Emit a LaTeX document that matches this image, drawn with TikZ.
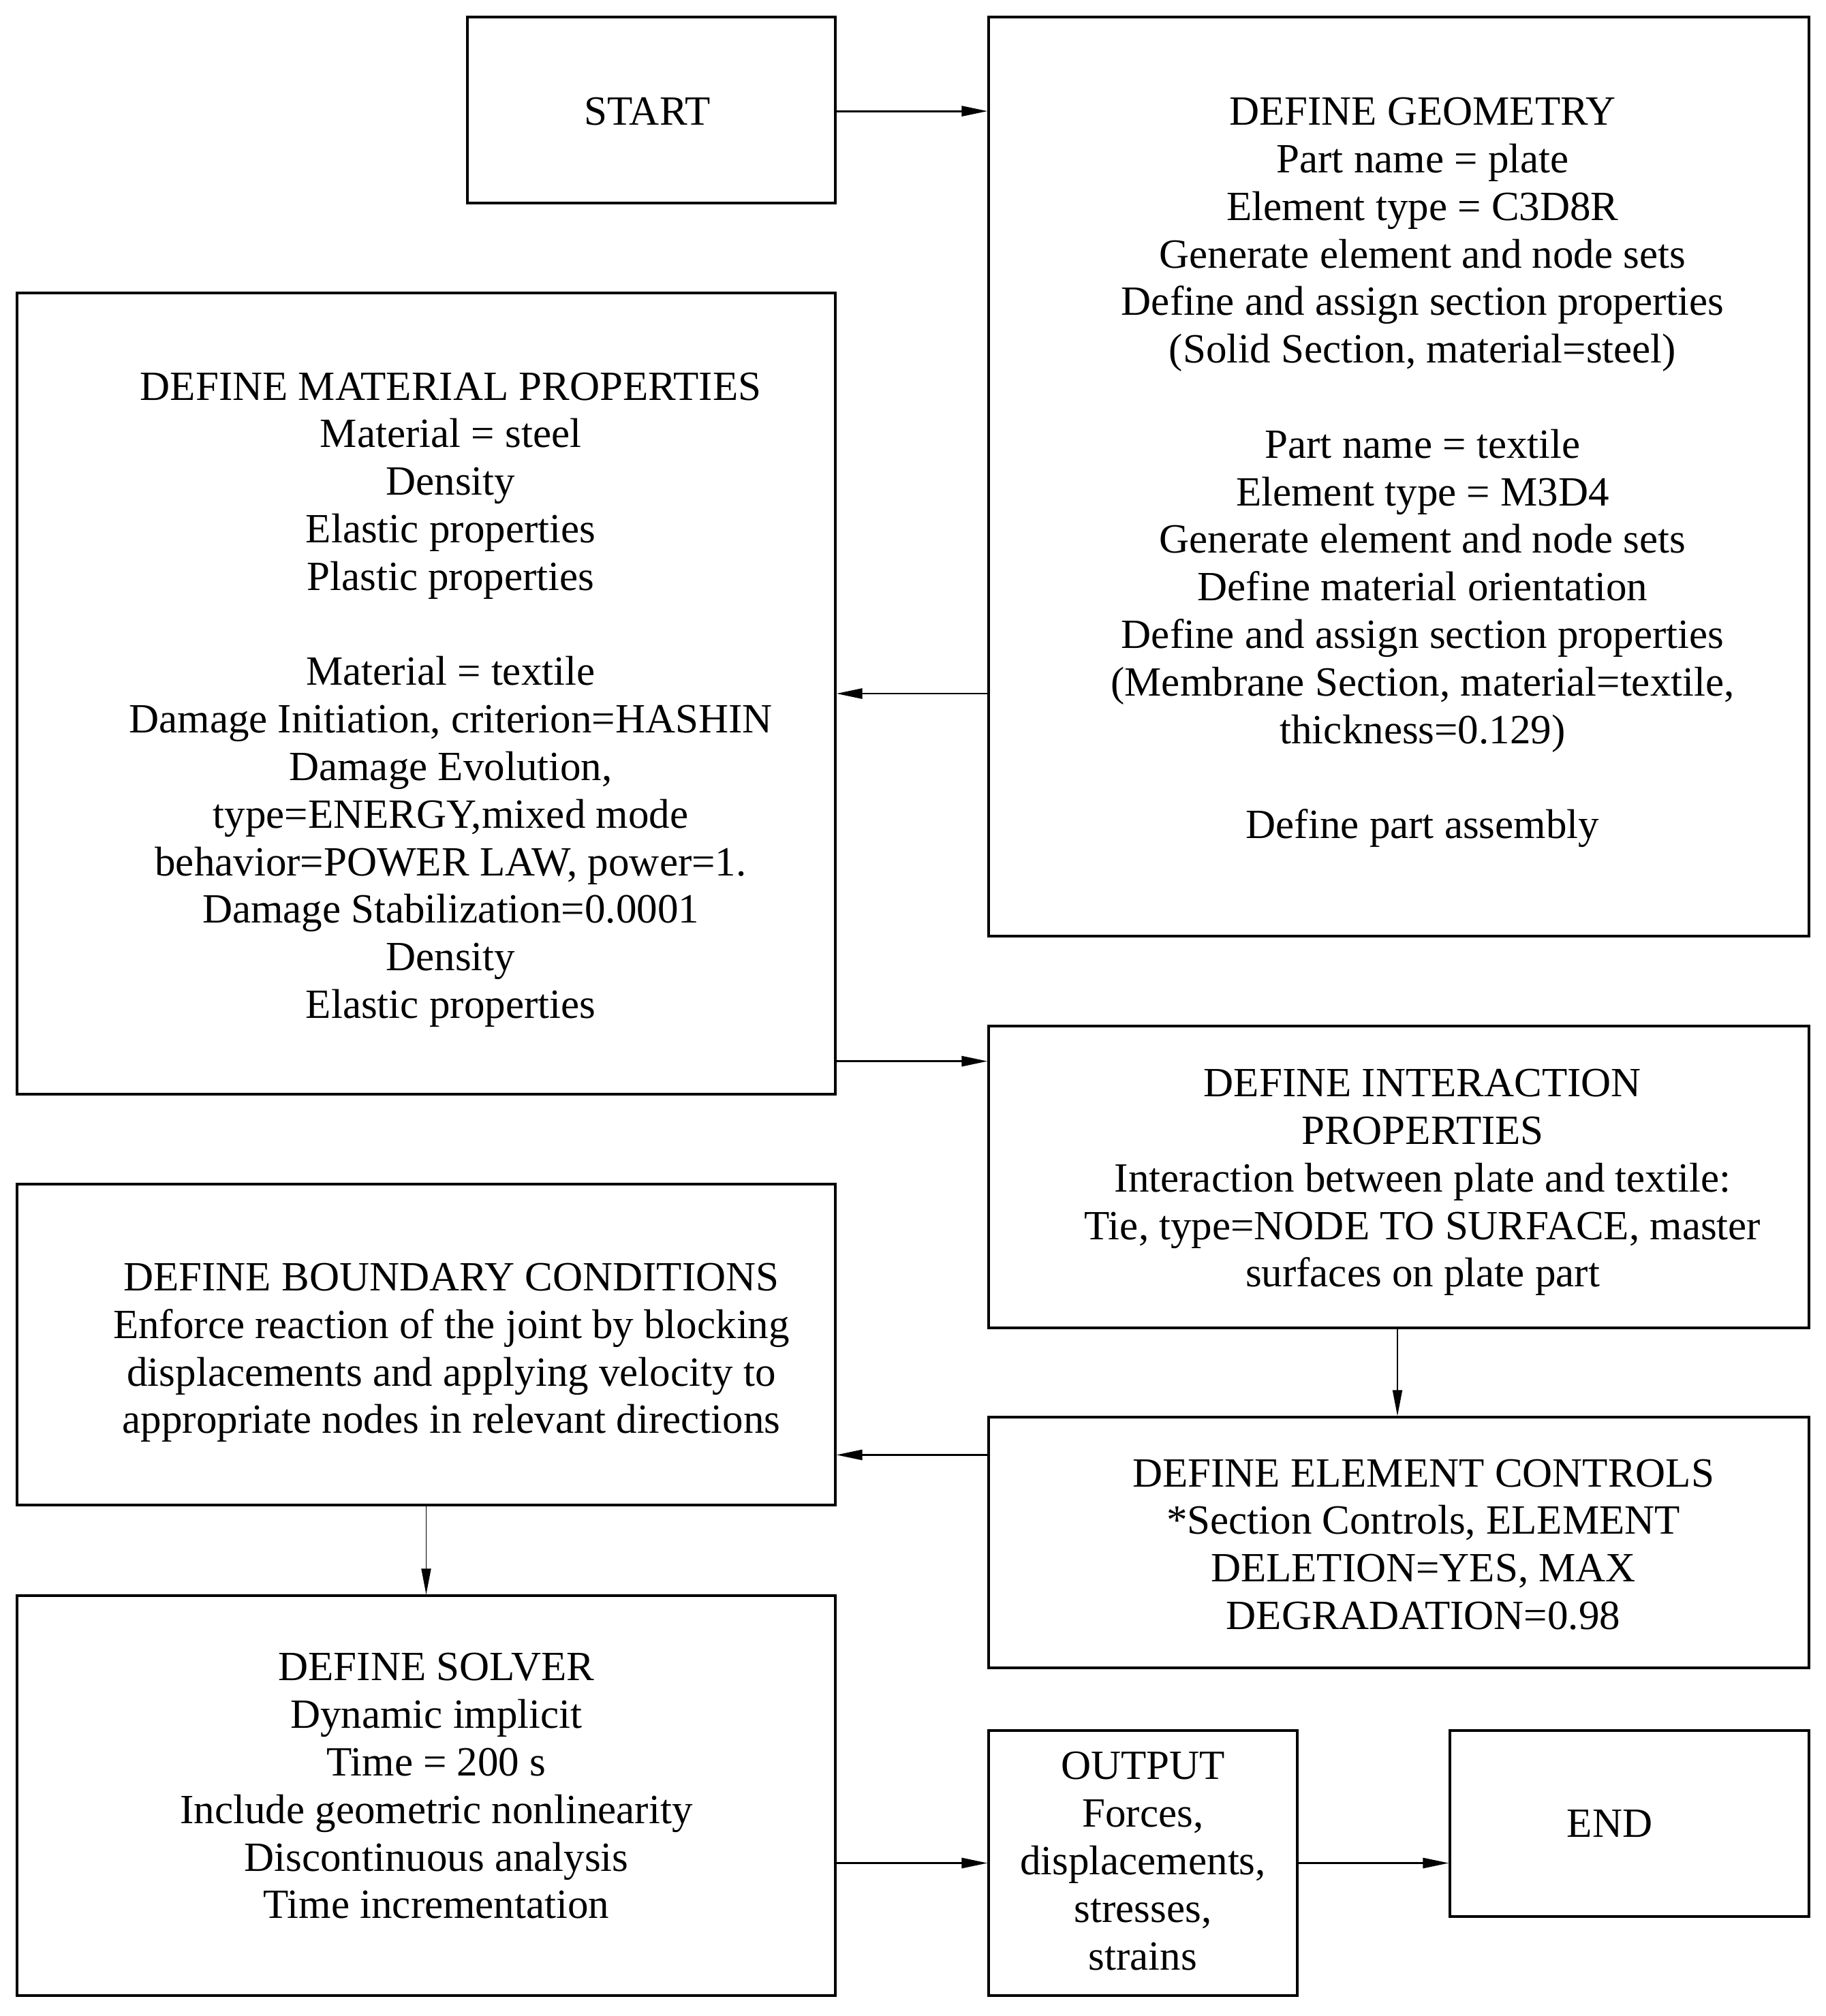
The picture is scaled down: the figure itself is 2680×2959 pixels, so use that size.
\documentclass[tikz,border=0pt]{standalone}
\usepackage{fontspec}
\setmainfont{Liberation Serif}
\usetikzlibrary{arrows.meta}
\begin{document}
\begin{tikzpicture}[x=0.25pt,y=-0.25pt,
  box/.style={draw=black,line width=0.8pt,inner sep=0pt},
  txt/.style={inner sep=0pt,align=center,
    font=\fontsize{15.25pt}{17.45pt}\selectfont},
  conn/.style={line width=0.7pt,-{Triangle[length=9.5pt,width=3.75pt]}},
  vconn/.style={line width=0.45pt,-{Triangle[length=9.5pt,width=3.5pt]}}]
\useasboundingbox[fill=white] (0,0) rectangle (2680,2959);
% boxes
\node[box,minimum width=135pt,minimum height=68.25pt] (start) at (956,161.5) {};
\node[box,minimum width=301pt,minimum height=337.25pt] (geom) at (2053,699.5) {};
\node[box,minimum width=300.25pt,minimum height=294pt] (mat) at (625.5,1018) {};
\node[box,minimum width=301pt,minimum height=110.75pt] (inter) at (2053,1727.5) {};
\node[box,minimum width=300.25pt,minimum height=117.75pt] (bound) at (625.5,1973.5) {};
\node[box,minimum width=301pt,minimum height=92pt] (elem) at (2053,2264) {};
\node[box,minimum width=300.25pt,minimum height=146.75pt] (solver) at (625.5,2635.5) {};
\node[box,minimum width=113.25pt,minimum height=97.25pt] (output) at (1677.5,2734.5) {};
\node[box,minimum width=131.75pt,minimum height=68.25pt] (end) at (2391.5,2676.5) {};
% texts
\node[txt] (startt) at ([xshift=-1.5pt,yshift=-0.5pt]start.center) {START};
\node[txt] (geomt) at ([xshift=8.75pt,yshift=1.5pt]geom.center) {DEFINE GEOMETRY\\
Part name = plate\\
Element type = C3D8R\\
Generate element and node sets\\
Define and assign section properties\\
(Solid Section, material=steel)\\
\strut\\
Part name = textile\\
Element type = M3D4\\
Generate element and node sets\\
Define material orientation\\
Define and assign section properties\\
(Membrane Section, material=textile,\\
thickness=0.129)\\
\strut\\
Define part assembly};
\node[txt] (matt) at ([xshift=9pt,yshift=-2.25pt]mat.center) {DEFINE MATERIAL PROPERTIES\\
Material = steel\\
Density\\
Elastic properties\\
Plastic properties\\
\strut\\
Material = textile\\
Damage Initiation, criterion=HASHIN\\
Damage Evolution,\\
type=ENERGY,mixed mode\\
behavior=POWER LAW, power=1.\\
Damage Stabilization=0.0001\\
Density\\
Elastic properties};
\node[txt] (intert) at ([xshift=8.75pt,yshift=-2pt]inter.center) {DEFINE INTERACTION\\
PROPERTIES\\
Interaction between plate and textile:\\
Tie, type=NODE TO SURFACE, master\\
surfaces on plate part};
\node[txt] (boundt) at ([xshift=9.25pt,yshift=-3pt]bound.center) {DEFINE BOUNDARY CONDITIONS\\
Enforce reaction of the joint by blocking\\
displacements and applying velocity to\\
appropriate nodes in relevant directions};
\node[txt] (elemt) at ([xshift=9pt,yshift=-0.75pt]elem.center) {DEFINE ELEMENT CONTROLS\\
*Section Controls, ELEMENT\\
DELETION=YES, MAX\\
DEGRADATION=0.98};
\node[txt] (solvert) at ([xshift=3.75pt,yshift=3.5pt]solver.center) {DEFINE SOLVER\\
Dynamic implicit\\
Time = 200 s\\
Include geometric nonlinearity\\
Discontinuous analysis\\
Time incrementation};
\node[txt] (outputt) at ([yshift=0.75pt]output.center) {OUTPUT\\
Forces,\\
displacements,\\
stresses,\\
strains};
\node[txt] (endt) at ([xshift=-7.25pt]end.center) {END};
% connectors
\coordinate (s1) at ([yshift=-0.4pt]start.east);
\draw[conn] (s1) -- (s1 -| geom.west);
\draw[conn] (mat.east -| geom.west) -- (mat.east);
\coordinate (m1) at ([yshift=12.5pt]mat.south east);
\draw[conn] (m1) -- (m1 -| inter.west);
\draw[vconn] ([xshift=-0.5pt]inter.south) -- ([xshift=-0.5pt]elem.north);
\coordinate (e1) at ([yshift=-14.25pt]elem.north west);
\draw[conn] (e1) -- (e1 -| bound.east);
\draw[vconn] (bound.south) -- (solver.north);
\draw[conn] (output.west -| solver.east) -- (output.west);
\draw[conn] (output.east) -- (output.east -| end.west);
\end{tikzpicture}
\end{document}
